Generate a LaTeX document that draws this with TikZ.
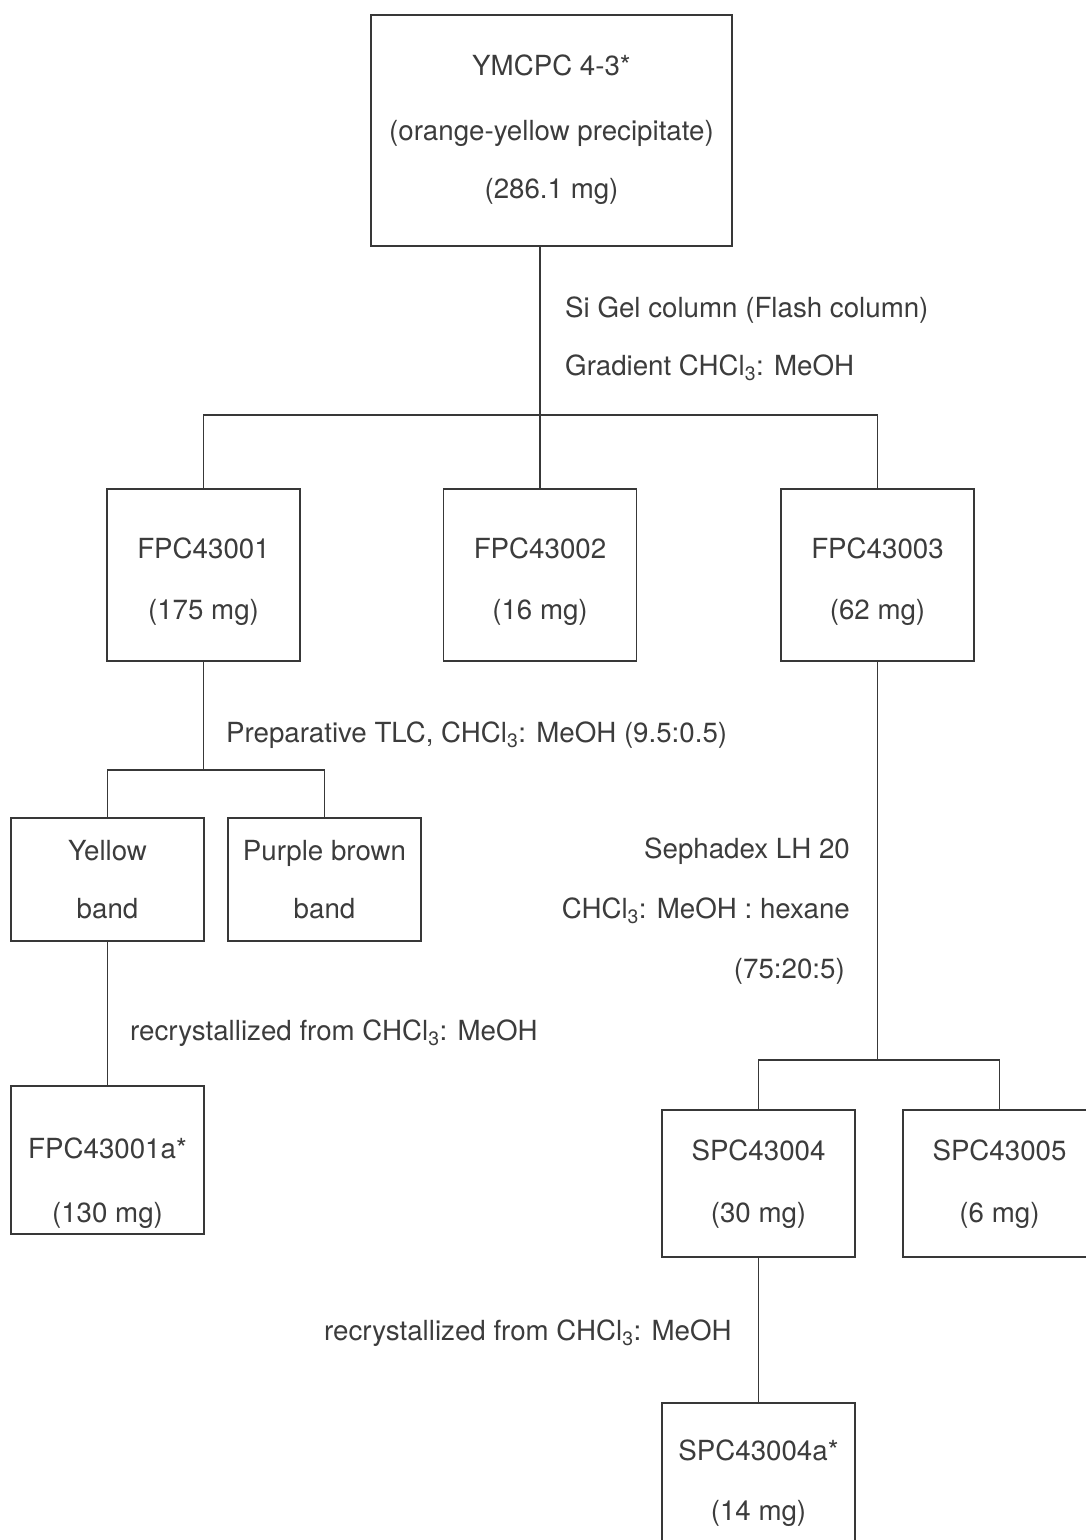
\documentclass[tikz,border=0pt]{standalone}
\usepackage{fontspec}
\setmainfont{TeX Gyre Heros}
\definecolor{linec}{HTML}{383838}
\definecolor{textc}{HTML}{3C3C3C}
\begin{document}
\begin{tikzpicture}[x=1pt,y=-1pt,
  box/.style={draw=linec, line width=1.8pt, rectangle, inner sep=0pt},
  conn/.style={draw=linec, line width=1.8pt},
  txt/.style={text=textc, inner sep=0pt, text height=20pt, text depth=0pt,
    font=\fontsize{27.7}{33}\selectfont}]
\useasboundingbox (0,0) rectangle (1086,1540);
\fill[white] (0,0) rectangle (1086,1540);
\clip (0,0) rectangle (1086,1540);

% boxes
\node[box, minimum width=361pt, minimum height=231pt] (top) at (551.5,130.5) {};
\node[box, minimum width=193pt, minimum height=172pt] (f1) at (203.5,575) {};
\node[box, minimum width=193pt, minimum height=172pt] (f2) at (540,575) {};
\node[box, minimum width=193pt, minimum height=172pt] (f3) at (877.5,575) {};
\node[box, minimum width=193pt, minimum height=123pt] (yb) at (107.5,879.5) {};
\node[box, minimum width=193pt, minimum height=123pt] (pb) at (324.5,879.5) {};
\node[box, minimum width=193pt, minimum height=148pt] (fa) at (107.5,1160) {};
\node[box, minimum width=193pt, minimum height=147pt] (s4) at (758.5,1183.5) {};
\node[box, minimum width=193pt, minimum height=147pt] (s5) at (999.5,1183.5) {};
\node[box, minimum width=193pt, minimum height=160pt] (s4a) at (758.5,1483) {};

% box texts
\node[txt] (top1) at (551.5,65) {YMCPC 4-3*};
\node[txt] (top2) at (551.5,130) {(orange-yellow precipitate)};
\node[txt] (top3) at (551.5,188) {(286.1 mg)};
\node[txt] (f1a) at (203.5,548) {FPC43001};
\node[txt] (f1b) at (203.5,609) {(175 mg)};
\node[txt] (f2a) at (540,548) {FPC43002};
\node[txt] (f2b) at (540,609) {(16 mg)};
\node[txt] (f3a) at (877.5,548) {FPC43003};
\node[txt] (f3b) at (877.5,609) {(62 mg)};
\node[txt] (yba) at (107.5,850) {Yellow};
\node[txt] (ybb) at (107.5,908) {band};
\node[txt] (pba) at (324.5,850) {Purple brown};
\node[txt] (pbb) at (324.5,908) {band};
\node[txt] (faa) at (107.5,1148) {FPC43001a*};
\node[txt] (fab) at (107.5,1212) {(130 mg)};
\node[txt] (s4t) at (758.5,1150) {SPC43004};
\node[txt] (s4b) at (758.5,1212) {(30 mg)};
\node[txt] (s5t) at (999.5,1150) {SPC43005};
\node[txt] (s5b) at (999.5,1212) {(6 mg)};
\node[txt] (s4at) at (758.5,1450) {SPC43004a*};
\node[txt] (s4ab) at (758.5,1510) {(14 mg)};

% procedure labels
\node[txt, anchor=west] (l1) at (565,307) {Si Gel column (Flash column)};
\node[txt, anchor=west] (l2) at (565,365) {Gradient CHCl\textsubscript{3}: MeOH};
\node[txt, anchor=west] (l3) at (226,732) {Preparative TLC, CHCl\textsubscript{3}: MeOH (9.5:0.5)};
\node[txt, anchor=west] (l4) at (130,1030) {recrystallized from CHCl\textsubscript{3}: MeOH};
\node[txt, anchor=east] (l5) at (850,848) {Sephadex LH 20};
\node[txt, anchor=east] (l6) at (850,908) {CHCl\textsubscript{3}: MeOH : hexane};
\node[txt, anchor=east] (l7) at (845,968) {(75:20:5)};
\node[txt, anchor=west] (l8) at (324,1330) {recrystallized from CHCl\textsubscript{3}: MeOH};

% junctions
\coordinate (j1) at (540,415);
\coordinate (j2) at (203.5,770);
\coordinate (j3) at (877.5,1060);

% connectors
\draw[conn] (top.south -| j1) -- (j1);
\draw[conn] (f1.north) |- (j1) -| (f3.north);
\draw[conn] (j1) -- (f2.north);
\draw[conn] (f1.south) -- (j2);
\draw[conn] (yb.north) |- (j2) -| (pb.north);
\draw[conn] (yb.south) -- (fa.north);
\draw[conn] (f3.south) -- (j3);
\draw[conn] (s4.north) |- (j3) -| (s5.north);
\draw[conn] (s4.south) -- (s4a.north);
\end{tikzpicture}
\end{document}
